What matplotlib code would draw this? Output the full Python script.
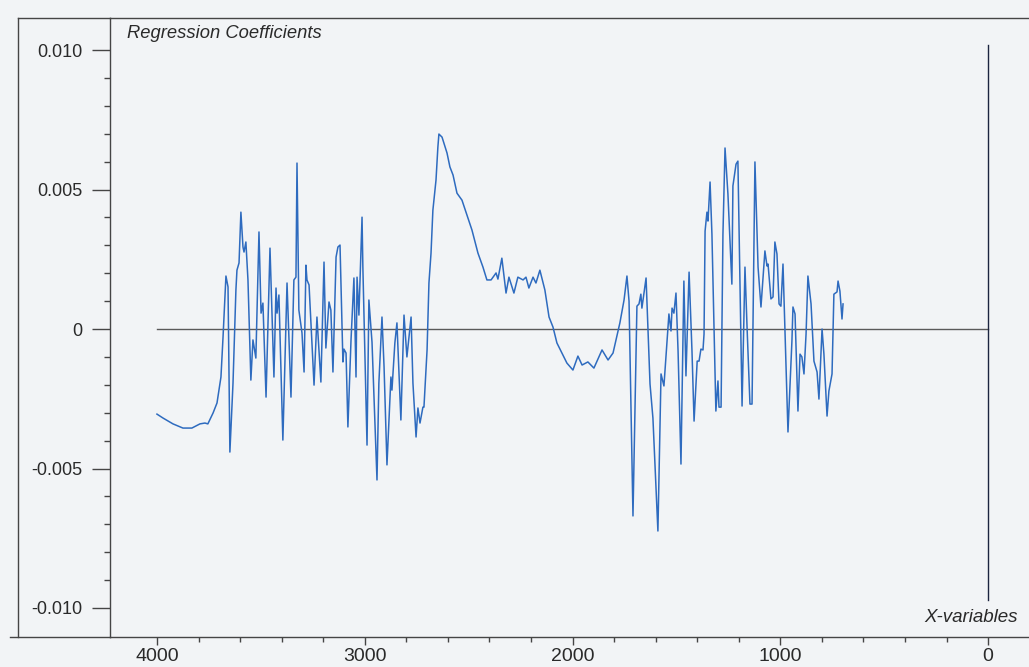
import numpy as np
import matplotlib.pyplot as plt
from matplotlib.lines import Line2D
from matplotlib.ticker import FixedLocator

plt.rcParams['font.family'] = ['Liberation Sans', 'DejaVu Sans']

# X-variables (wavenumber)
wavenumber = [4000, 3971, 3923, 3875, 3832, 3793, 3769, 3755, 3730, 3711,
              3692, 3682, 3668, 3658, 3649, 3634, 3620, 3615, 3605, 3596,
              3586, 3581, 3572, 3562, 3548, 3538, 3524, 3509, 3499, 3490,
              3475, 3456, 3437, 3427, 3422, 3413, 3394, 3374, 3355, 3341,
              3331, 3326, 3317, 3302, 3292, 3283, 3278, 3268, 3244, 3230,
              3211, 3196, 3187, 3172, 3163, 3153, 3138, 3129, 3119, 3105,
              3100, 3090, 3081, 3066, 3052, 3042, 3037, 3028, 3013, 3009,
              2989, 2980, 2965, 2941, 2932, 2917, 2907, 2893, 2874, 2869,
              2855, 2845, 2826, 2811, 2797, 2777, 2768, 2753, 2744, 2734,
              2720, 2715, 2700, 2691, 2681, 2672, 2657, 2648, 2643, 2628,
              2604, 2590, 2575, 2556, 2532, 2508, 2484, 2455, 2431, 2412,
              2392, 2368, 2359, 2340, 2320, 2306, 2282, 2263, 2238, 2224,
              2210, 2190, 2176, 2157, 2133, 2113, 2094, 2075, 2051, 2027,
              1998, 1974, 1954, 1926, 1897, 1858, 1829, 1805, 1772, 1752,
              1738, 1728, 1709, 1690, 1680, 1671, 1666, 1646, 1627, 1613,
              1589, 1574, 1560, 1545, 1536, 1526, 1521, 1512, 1502, 1492,
              1478, 1464, 1454, 1439, 1425, 1415, 1400, 1391, 1382, 1372,
              1367, 1362, 1353, 1348, 1338, 1329, 1310, 1300, 1295, 1285,
              1276, 1266, 1252, 1233, 1228, 1213, 1204, 1184, 1170, 1160,
              1146, 1136, 1122, 1107, 1093, 1074, 1064, 1059, 1045, 1035,
              1026, 1016, 1006, 997, 987, 963, 944, 939, 929, 915,
              905, 896, 886, 876, 867, 852, 838, 823, 814, 799,
              790, 775, 766, 751, 742, 727, 722, 713, 703, 698]

# regression coefficients, in units of 1e-3
coef_e3 = [-3.05, -3.19, -3.40, -3.55, -3.55, -3.40, -3.37, -3.40, -3.01, -2.65,
           -1.72, -0.29, 1.90, 1.51, -4.41, -1.94, 1.40, 2.11, 2.37, 4.19,
           2.94, 2.76, 3.12, 1.76, -1.83, -0.39, -1.04, 3.48, 0.57, 0.93,
           -2.44, 2.90, -1.72, 1.47, 0.57, 1.22, -3.98, 1.65, -2.44, 1.76,
           1.86, 5.95, 0.68, -0.14, -1.54, 2.29, 1.76, 1.58, -2.01, 0.43,
           -1.90, 2.40, -0.68, 0.97, 0.68, -1.54, 2.58, 2.94, 3.01, -1.18,
           -0.72, -0.86, -3.51, -0.39, 1.83, -1.72, 1.86, 0.50, 4.01, 2.22,
           -4.16, 1.04, -0.47, -5.41, -1.94, 0.43, -1.36, -4.87, -1.72, -2.19,
           -0.50, 0.22, -3.26, 0.50, -1.00, 0.43, -1.94, -3.87, -2.83, -3.37,
           -2.80, -2.80, -0.75, 1.65, 2.72, 4.26, 5.34, 6.52, 6.99, 6.88,
           6.31, 5.81, 5.52, 4.87, 4.62, 4.09, 3.55, 2.72, 2.22, 1.76,
           1.76, 2.01, 1.79, 2.54, 1.29, 1.86, 1.29, 1.86, 1.76, 1.86,
           1.47, 1.86, 1.65, 2.11, 1.40, 0.43, 0.07, -0.50, -0.86, -1.22,
           -1.47, -0.97, -1.29, -1.18, -1.40, -0.75, -1.11, -0.86, 0.22, 1.04,
           1.90, 1.00, -6.70, 0.82, 0.90, 1.25, 0.75, 1.83, -1.97, -3.19,
           -7.24, -1.61, -2.04, -0.43, 0.54, -0.07, 0.75, 0.57, 1.29, -0.79,
           -4.84, 1.72, -1.68, 2.04, -0.79, -3.30, -1.15, -1.15, -0.72, -0.75,
           -0.18, 3.51, 4.19, 3.87, 5.27, 3.40, -2.94, -1.86, -2.80, -2.80,
           3.40, 6.49, 4.84, 1.61, 5.13, 5.91, 6.02, -2.76, 2.22, 0.07,
           -2.69, -2.69, 5.99, 2.22, 0.79, 2.80, 2.26, 2.33, 1.08, 1.15,
           3.12, 2.69, 0.90, 0.82, 2.33, -3.69, -0.43, 0.79, 0.54, -2.94,
           -0.90, -1.00, -1.61, -0.18, 1.90, 0.90, -1.15, -1.54, -2.51, 0.00,
           -0.90, -3.12, -2.22, -1.61, 1.25, 1.33, 1.72, 1.36, 0.36, 0.90]

yticks = [0.010, 0.005, 0.0, -0.005, -0.010]
ytick_labels = ['0.010', '0.005', '0', '-0.005', '-0.010']
xticks = [4000, 3000, 2000, 1000, 0]
xtick_labels = ['4000', '3000', '2000', '1000', '0']

x = np.array(wavenumber, dtype=float)
y = np.array(coef_e3) * 1e-3

bg = '#f2f4f6'
frame = '#454545'

fig = plt.figure(figsize=(10.29, 6.67), dpi=100, facecolor=bg)
W, H = 1029., 667.
ax = fig.add_axes([110 / W, (H - 637) / H, (W - 110) / W, (637 - 18) / H])
ax.set_facecolor(bg)

# curve, zero line and the x=0 marker line
ax.plot([4000, 0], [0, 0], color='#5a5a5a', lw=1.0)
ax.plot(x, y, color='#2e6bbf', lw=1.1)
ax.plot([0, 0], [0.0102, -0.0097], color='#1c2540', lw=1.0)

ax.set_xlim(4226, -197)
ax.set_ylim(-0.01104, 0.01115)

ax.spines['right'].set_visible(False)
for s in ['left', 'bottom', 'top']:
    ax.spines[s].set_color(frame)
    ax.spines[s].set_linewidth(1.0)

ax.set_yticks(yticks)
ax.set_yticklabels(ytick_labels)
ax.yaxis.set_minor_locator(FixedLocator(np.arange(-0.010, 0.0101, 0.001)))
ax.tick_params(axis='y', which='major', length=13, width=1.0, color=frame,
               pad=7, labelsize=13, labelcolor='#2a2a2a')
ax.tick_params(axis='y', which='minor', length=4.5, width=1.0, color=frame)

ax.set_xticks(xticks)
ax.set_xticklabels(xtick_labels)
ax.xaxis.set_minor_locator(FixedLocator(np.arange(0, 4001, 200)))
ax.tick_params(axis='x', which='major', length=6, width=1.0, color=frame,
               pad=2, labelsize=14, labelcolor='#2a2a2a')
ax.tick_params(axis='x', which='minor', length=3.5, width=1.0, color=frame)

ax.text(127 / W, 1 - 34 / H, 'Regression Coefficients', transform=fig.transFigure,
        fontsize=13.2, style='italic', color='#2a2a2a', va='center', ha='left')
ax.text(1018 / W, 1 - 617 / H, 'X-variables', transform=fig.transFigure,
        fontsize=13.5, style='italic', color='#2a2a2a', va='center', ha='right')

# outer frame bits left of the y axis
fig.add_artist(Line2D([18 / W, 110 / W], [1 - 18 / H, 1 - 18 / H], color=frame, lw=1.0))
fig.add_artist(Line2D([18 / W, 18 / W], [1 - 18 / H, 1 - 637 / H], color=frame, lw=1.0))
fig.add_artist(Line2D([10 / W, 110 / W], [1 - 637 / H, 1 - 637 / H], color=frame, lw=1.0))

fig.savefig('out.png', dpi=100, facecolor=bg)
